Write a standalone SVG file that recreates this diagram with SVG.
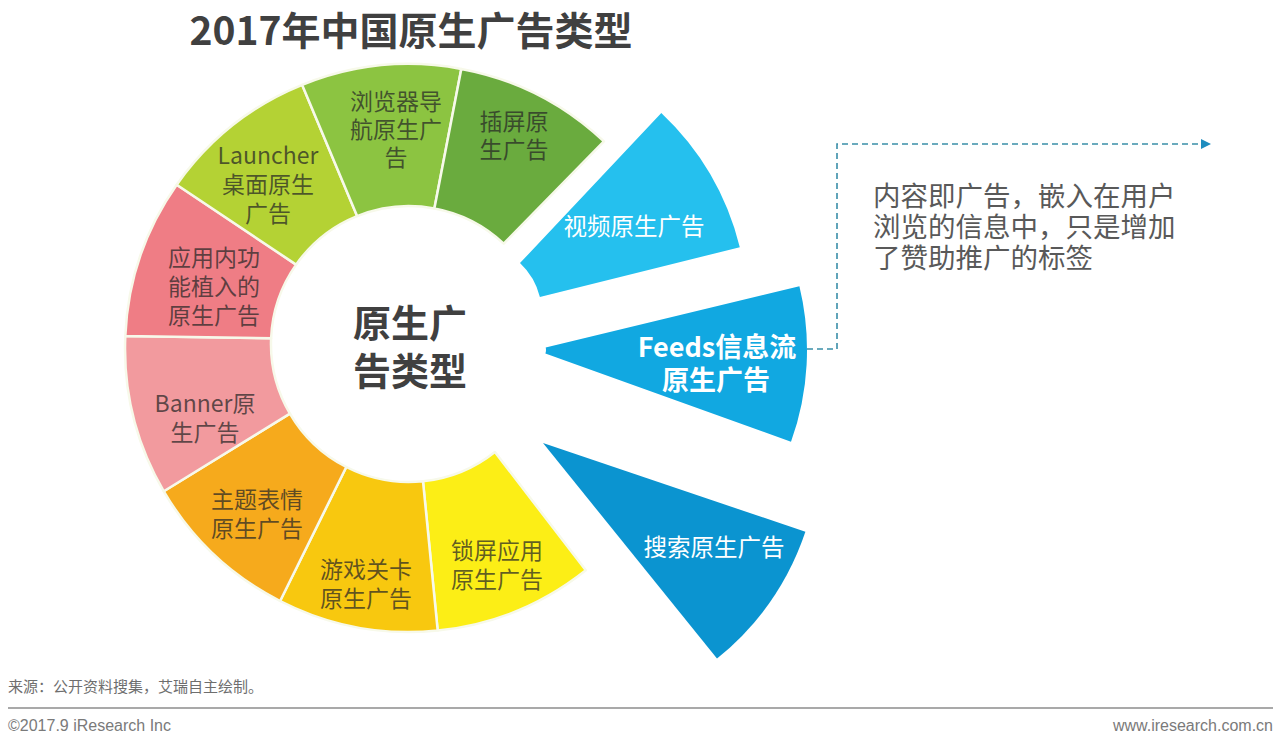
<svg xmlns="http://www.w3.org/2000/svg" width="1280" height="750" viewBox="0 0 1280 750">
  <style>
    .seg { stroke: #f7f9ea; stroke-width: 2.5; stroke-linejoin: round; }
    .lbl { font-family: "Noto Sans CJK SC", "Noto Sans", sans-serif; font-size: 23px; fill: #262626; fill-opacity: 0.72; text-anchor: middle; }
    .wlbl { font-family: "Noto Sans CJK SC", "Noto Sans", sans-serif; font-size: 23.5px; fill: #ffffff; text-anchor: middle; }
    .blbl { font-family: "Noto Sans CJK SC", "Noto Sans", sans-serif; font-size: 27px; font-weight: bold; fill: #ffffff; text-anchor: middle; }
    .title { font-family: "Noto Sans CJK SC", "Noto Sans", sans-serif; font-weight: bold; fill: #404040; text-anchor: middle; }
    .note { font-family: "Noto Sans CJK SC", "Noto Sans", sans-serif; font-size: 27.5px; fill: #595959; }
    .foot { font-family: "Noto Sans CJK SC", "Noto Sans", sans-serif; font-size: 15px; fill: #6e6e6e; }
    .foot2 { font-family: "Liberation Sans", Arial, sans-serif; font-size: 16px; fill: #7a7a7a; }
    .dash { fill: none; stroke: #3a8ea8; stroke-width: 1.6; stroke-dasharray: 6 4; }
  </style>
  <defs>
    <marker id="arrow" markerWidth="10" markerHeight="10" refX="9" refY="5" orient="auto" markerUnits="userSpaceOnUse">
      <path d="M0,0 L10,5 L0,10 Z" fill="#1f8dbf"/>
    </marker>
  </defs>
  <rect width="1280" height="750" fill="#ffffff"/>

  <text class="title" x="411" y="45" font-size="39">2017年中国原生广告类型</text>

  <g id="seg-lockscreen">
    <path class="seg" fill="#FCEE16" d="M494.9,452.0 L585.8,570.3 A284,284 0 0 1 437.7,630.6 L423.0,481.3 A138,138 0 0 0 494.9,452.0 Z"/>
    <text class="lbl" x="497" y="559">锁屏应用<tspan x="497" dy="29">原生广告</tspan></text>
  </g>
  <g id="seg-game">
    <path class="seg" fill="#F8C80F" d="M423.0,481.3 L437.7,630.6 A284,284 0 0 1 280.1,601.0 L346.3,467.0 A138,138 0 0 0 423.0,481.3 Z"/>
    <text class="lbl" x="366" y="578">游戏关卡<tspan x="366" dy="29">原生广告</tspan></text>
  </g>
  <g id="seg-theme">
    <path class="seg" fill="#F6AA1C" d="M346.3,467.0 L280.1,601.0 A284,284 0 0 1 163.8,491.3 L289.9,413.6 A138,138 0 0 0 346.3,467.0 Z"/>
    <text class="lbl" x="257" y="508">主题表情<tspan x="257" dy="29">原生广告</tspan></text>
  </g>
  <g id="seg-banner">
    <path class="seg" fill="#F29A9E" d="M289.9,413.6 L163.8,491.3 A284,284 0 0 1 125.3,336.1 L271.1,338.2 A138,138 0 0 0 289.9,413.6 Z"/>
    <text class="lbl" x="205" y="412">Banner原<tspan x="205" dy="29">生广告</tspan></text>
  </g>
  <g id="seg-inapp">
    <path class="seg" fill="#EF7D85" d="M271.1,338.2 L125.3,336.1 A284,284 0 0 1 176.7,184.7 L296.1,264.6 A138,138 0 0 0 271.1,338.2 Z"/>
    <text class="lbl" x="214" y="266">应用内功<tspan x="214" dy="29">能植入的</tspan><tspan x="214" dy="29">原生广告</tspan></text>
  </g>
  <g id="seg-launcher">
    <path class="seg" fill="#B4D234" d="M296.1,264.6 L176.7,184.7 A284,284 0 0 1 302.2,84.9 L357.1,216.1 A138,138 0 0 0 296.1,264.6 Z"/>
    <text class="lbl" x="268" y="164">Launcher<tspan x="268" dy="29">桌面原生</tspan><tspan x="268" dy="29">广告</tspan></text>
  </g>
  <g id="seg-browser">
    <path class="seg" fill="#8CC441" d="M357.1,216.1 L302.2,84.9 A284,284 0 0 1 461.3,68.9 L434.4,208.4 A138,138 0 0 0 357.1,216.1 Z"/>
    <text class="lbl" x="396" y="110">浏览器导<tspan x="396" dy="28">航原生广</tspan><tspan x="396" dy="28">告</tspan></text>
  </g>
  <g id="seg-interstitial">
    <path class="seg" fill="#6AAB3E" d="M434.4,208.4 L461.3,68.9 A284,284 0 0 1 603.9,141.4 L503.7,243.6 A138,138 0 0 0 434.4,208.4 Z"/>
    <text class="lbl" x="514" y="130">插屏原<tspan x="514" dy="28">生广告</tspan></text>
  </g>

  <g id="seg-video">
    <path fill="#25C0EE" d="M520.0,263.1 L661.3,113.1 A276,276 0 0 1 739.8,247.2 L539.9,297.1 A70,70 0 0 0 520.0,263.1 Z"/>
    <text class="wlbl" x="634" y="235">视频原生广告</text>
  </g>
  <g id="seg-feeds">
    <path fill="#11A8E1" d="M545.7,347.6 L799.4,286.3 A271,271 0 0 1 791.0,441.8 L545.4,353.4 A10,10 0 0 0 545.7,347.6 Z"/>
    <text class="blbl" x="717" y="357">Feeds信息流<tspan x="716" dy="33">原生广告</tspan></text>
  </g>
  <g id="seg-search">
    <path fill="#0B94D0" d="M543,443 L805.4,531.8 A277,277 0 0 1 717.0,658.6 Z"/>
    <text class="wlbl" x="714" y="556">搜索原生广告</text>
  </g>

  <g id="center">
    <text class="title" x="410" y="337" font-size="38">原生广<tspan x="410" dy="48">告类型</tspan></text>
  </g>

  <g id="note">
    <text class="note" x="873" y="206">内容即广告，嵌入在用户<tspan x="873" dy="31">浏览的信息中，只是增加</tspan><tspan x="873" dy="31">了赞助推广的标签</tspan></text>
  </g>

  <g id="connectors">
    <path class="dash" d="M807,349 L837,349 L837,144 L1210,144" marker-end="url(#arrow)"/>
  </g>

  <g id="footer">
    <text class="foot" x="8" y="692">来源：公开资料搜集，艾瑞自主绘制。</text>
    <line x1="8" y1="708" x2="1273" y2="708" stroke="#8c8c8c" stroke-width="1.5"/>
    <text class="foot2" x="8" y="731">©2017.9 iResearch Inc</text>
    <text class="foot2" x="1273" y="731" text-anchor="end">www.iresearch.com.cn</text>
  </g>
</svg>
